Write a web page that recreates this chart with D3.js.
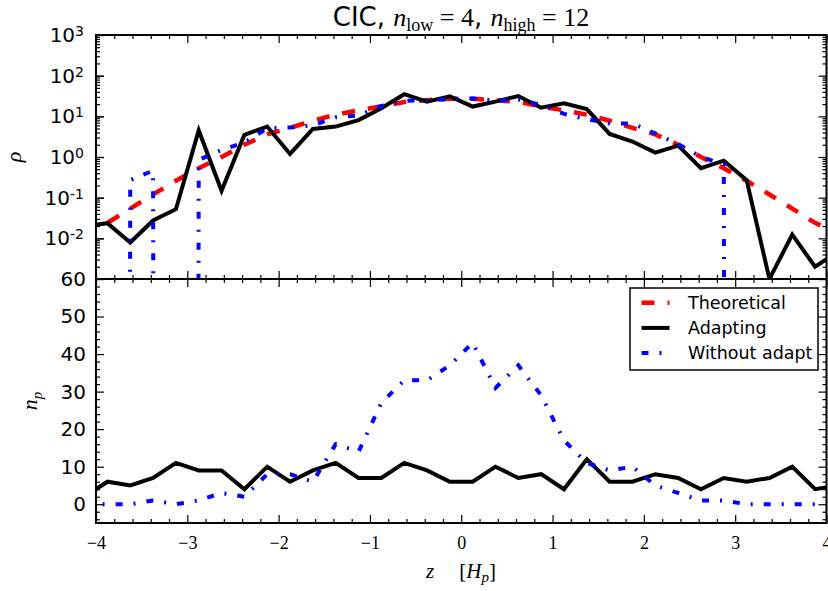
<!DOCTYPE html>
<html>
<head>
<meta charset="utf-8">
<script src="https://cdn.jsdelivr.net/npm/d3@7"></script>
<style>
  body { margin: 0; background: #fff; }
  svg { display: block; }
</style>
</head>
<body>
<svg id="chart" width="828" height="591"></svg>
<script>
// Cell centres along z (in units of H_p); the outermost two lie just outside the plotted range
const zCells = [-4.125, -3.875, -3.625, -3.375, -3.125, -2.875, -2.625, -2.375, -2.125, -1.875,
                -1.625, -1.375, -1.125, -0.875, -0.625, -0.375, -0.125, 0.125, 0.375, 0.625,
                0.875, 1.125, 1.375, 1.625, 1.875, 2.125, 2.375, 2.625, 2.875, 3.125,
                3.375, 3.625, 3.875, 4.125];

// Density rho per cell
const rhoTheoretical = [0.013, 0.024, 0.054, 0.12, 0.26, 0.53, 1.0, 2.0, 3.6, 5.2,
                        7.8, 11, 14, 17.5, 22.5, 25, 27, 27, 25, 22.5,
                        17.5, 14, 11, 7.8, 5.2, 3.6, 2.0, 1.0, 0.53, 0.26,
                        0.12, 0.054, 0.024, 0.013];
const rhoAdapting = [0.0197, 0.0236, 0.0079, 0.0275, 0.052, 4.5, 0.148, 3.5, 5.6, 1.19,
                     4.9, 5.6, 8.1, 15.8, 35, 23, 31, 17.4, 23, 31.6,
                     16.3, 21, 15.1, 3.7, 2.4, 1.28, 1.9, 0.53, 0.81, 0.27,
                     0.001, 0.0123, 0.002, 0.0047];
const rhoWithout = [0, 0, 0.27, 0.46, 0, 0.85, 1.5, 2.26, 5.1, 5.3,
                    6.0, 9.5, 10.5, 18, 24, 25, 26, 27.6, 24.4, 26,
                    19, 11.5, 8.5, 6.7, 6.7, 3.8, 2.06, 1.02, 0.64, 0,
                    0, 0, 0, 0];

// Particle count n_p per cell
const npAdapting = [2, 6, 5, 7, 11, 9, 9, 4, 10, 6,
                    9, 11, 7, 7, 11, 9, 6, 6, 10, 7,
                    8, 4, 12, 6, 6, 8, 7, 4, 7, 6,
                    7, 10, 4, 5];
const npWithout = [0, 0, 0, 1, 0, 1, 3, 2, 8, 8,
                   6, 16, 14, 27, 33, 33, 37, 43, 31, 37,
                   29, 17, 11, 9, 10, 5, 3, 1, 1, 0,
                   0, 0, 0, 0];

// Axis ticks
const zTicks = [-4, -3, -2, -1, 0, 1, 2, 3, 4];
const rhoExponents = [-2, -1, 0, 1, 2, 3];
const npTicks = [0, 10, 20, 30, 40, 50, 60];
const seriesNames = ["Theoretical", "Adapting", "Without adapt"];

const svg = d3.select("#chart");
const L = 96, R = 826.5, T = 35, MID = 279, B = 523;

const x = d3.scaleLinear().domain([-4, 4]).range([L, R]);
const yRho = d3.scaleLog().domain([1e-3, 1e3]).range([MID, T]);
const yNp = d3.scaleLinear().domain([-5, 60]).range([B, MID]);

const SANS = "DejaVu Sans, sans-serif";
const SERIF = "Liberation Serif, Times New Roman, serif";

// clip regions for the two panels
const defs = svg.append("defs");
defs.append("clipPath").attr("id", "clipTop").append("rect")
  .attr("x", L).attr("y", T).attr("width", R - L).attr("height", MID - T);
defs.append("clipPath").attr("id", "clipBot").append("rect")
  .attr("x", L).attr("y", MID).attr("width", R - L).attr("height", B - MID);

const styles = {
  theo: { stroke: "#ff0000", width: 4.5, dash: "13,13" },
  adapt: { stroke: "#000000", width: 4, dash: null },
  without: { stroke: "#0000ff", width: 4, dash: "7,11,2,11" }
};

function drawSeries(g, yScale, values, st, isLog) {
  const pts = zCells.map((z, i) => ({ z, v: values[i] }));
  const line = d3.line()
    .x(d => x(d.z))
    .y(d => yScale(isLog ? Math.max(d.v, 1e-300) : d.v));
  const p = g.append("path").datum(pts)
    .attr("d", line)
    .attr("fill", "none")
    .attr("stroke", st.stroke)
    .attr("stroke-width", st.width)
    .attr("stroke-linejoin", "miter")
    .attr("stroke-linecap", "butt");
  if (st.dash) p.attr("stroke-dasharray", st.dash);
}

// ---- top panel: density ----
const gTop = svg.append("g").attr("clip-path", "url(#clipTop)");
drawSeries(gTop, yRho, rhoTheoretical, styles.theo, true);
drawSeries(gTop, yRho, rhoAdapting, styles.adapt, true);
drawSeries(gTop, yRho, rhoWithout, styles.without, true);

// ---- bottom panel: particle count ----
const gBot = svg.append("g").attr("clip-path", "url(#clipBot)");
drawSeries(gBot, yNp, npAdapting, styles.adapt, false);
drawSeries(gBot, yNp, npWithout, styles.without, false);

// ---- axes: inward ticks on every side ----
const zMinor = d3.range(-4, 4.0001, 0.2).filter(v => Math.abs(v - Math.round(v)) > 1e-6);
const rhoMajor = d3.range(-3, 4).map(e => Math.pow(10, e));
const rhoMinor = [];
d3.range(-3, 3).forEach(e => { for (let m = 2; m <= 9; m++) rhoMinor.push(m * Math.pow(10, e)); });
const npMinor = d3.range(-4, 60, 2).filter(v => v % 10 !== 0);

function styleAxis(g) {
  g.select(".domain").remove();
  g.selectAll(".tick line").attr("stroke", "#000").attr("stroke-width", 1.2);
  g.attr("font-family", null).attr("font-size", null);
  return g;
}

function tickSet(axisFn, scale, values, size, transform) {
  const a = axisFn(scale).tickValues(values).tickSizeInner(-size).tickSizeOuter(0).tickFormat("");
  svg.append("g").attr("transform", transform).call(a).call(styleAxis);
}

// top panel ticks
tickSet(d3.axisBottom, x, zTicks, 8, `translate(0,${MID})`);
tickSet(d3.axisBottom, x, zMinor, 4, `translate(0,${MID})`);
tickSet(d3.axisTop, x, zTicks, 8, `translate(0,${T})`);
tickSet(d3.axisTop, x, zMinor, 4, `translate(0,${T})`);
tickSet(d3.axisLeft, yRho, rhoMajor, 8, `translate(${L},0)`);
tickSet(d3.axisLeft, yRho, rhoMinor, 4, `translate(${L},0)`);
tickSet(d3.axisRight, yRho, rhoMajor, 8, `translate(${R},0)`);
tickSet(d3.axisRight, yRho, rhoMinor, 4, `translate(${R},0)`);

// bottom panel ticks
tickSet(d3.axisTop, x, zTicks, 8, `translate(0,${MID})`);
tickSet(d3.axisTop, x, zMinor, 4, `translate(0,${MID})`);
tickSet(d3.axisBottom, x, zMinor, 4, `translate(0,${B})`);
tickSet(d3.axisLeft, yNp, npMinor, 4, `translate(${L},0)`);
tickSet(d3.axisRight, yNp, npTicks, 8, `translate(${R},0)`);
tickSet(d3.axisRight, yNp, npMinor, 4, `translate(${R},0)`);

// labelled axes
const xAxis = d3.axisBottom(x).tickValues(zTicks).tickSizeInner(-8).tickSizeOuter(0).tickPadding(13)
  .tickFormat(d => d < 0 ? "\u2212" + Math.abs(d) : String(d));
svg.append("g").attr("transform", `translate(0,${B})`).call(xAxis).call(styleAxis)
  .selectAll("text").attr("font-family", SERIF).attr("font-size", 18).attr("fill", "#000");

const npAxis = d3.axisLeft(yNp).tickValues(npTicks).tickSizeInner(-8).tickSizeOuter(0).tickPadding(10);
svg.append("g").attr("transform", `translate(${L},0)`).call(npAxis).call(styleAxis)
  .selectAll("text").attr("font-family", SANS).attr("font-size", 20).attr("fill", "#000");

const rhoAxis = d3.axisLeft(yRho).tickValues(rhoExponents.map(e => Math.pow(10, e)))
  .tickSizeInner(-8).tickSizeOuter(0).tickPadding(12).tickFormat("");
const rhoG = svg.append("g").attr("transform", `translate(${L},0)`).call(rhoAxis).call(styleAxis);
rhoG.selectAll(".tick text").each(function(d) {
  const t = d3.select(this).attr("font-family", SANS).attr("font-size", 20).attr("fill", "#000");
  const e = Math.round(Math.log10(d));
  t.text(null);
  t.append("tspan").text("10");
  t.append("tspan").attr("dy", "-0.42em").attr("font-size", 14)
    .text(e < 0 ? "-" + Math.abs(e) : String(e));
});

// frames
[[T, MID], [MID, B]].forEach(([y0, y1]) => {
  svg.append("rect").attr("x", L).attr("y", y0).attr("width", R - L).attr("height", y1 - y0)
    .attr("fill", "none").attr("stroke", "#000").attr("stroke-width", 2);
});

// title
const title = svg.append("text").attr("x", 461).attr("y", 26).attr("text-anchor", "middle")
  .attr("font-size", 26).attr("fill", "#000");
title.append("tspan").attr("font-family", SANS).text("CIC, ");
title.append("tspan").attr("font-family", SERIF).attr("font-style", "italic").text("n");
title.append("tspan").attr("font-family", SERIF).attr("font-size", 18).attr("dy", 5).text("low");
title.append("tspan").attr("font-family", SERIF).attr("dy", -5).text(" = 4");
title.append("tspan").attr("font-family", SANS).text(", ");
title.append("tspan").attr("font-family", SERIF).attr("font-style", "italic").text("n");
title.append("tspan").attr("font-family", SERIF).attr("font-size", 18).attr("dy", 5).text("high");
title.append("tspan").attr("font-family", SERIF).attr("dy", -5).text(" = 12");

// axis titles
svg.append("text").attr("transform", "translate(21,157) rotate(-90)").attr("text-anchor", "middle")
  .attr("font-family", SERIF).attr("font-style", "italic").attr("font-size", 22).attr("fill", "#000")
  .text("\u03c1");

const npLabel = svg.append("text").attr("transform", "translate(37,401) rotate(-90)")
  .attr("text-anchor", "middle").attr("font-family", SERIF).attr("font-size", 22).attr("fill", "#000");
npLabel.append("tspan").attr("font-style", "italic").text("n");
npLabel.append("tspan").attr("font-style", "italic").attr("font-size", 15).attr("dy", 5).text("p");

const zLabel = svg.append("text").attr("x", 461).attr("y", 578).attr("text-anchor", "middle")
  .attr("font-family", SERIF).attr("font-size", 21).attr("fill", "#000");
zLabel.append("tspan").attr("font-style", "italic").text("z");
zLabel.append("tspan").text("\u2003\u2009[");
zLabel.append("tspan").attr("font-style", "italic").text("H");
zLabel.append("tspan").attr("font-style", "italic").attr("font-size", 15).attr("dy", 4).text("p");
zLabel.append("tspan").attr("dy", -4).text("]");

// legend
const lg = svg.append("g");
lg.append("rect").attr("x", 630).attr("y", 288).attr("width", 188).attr("height", 82)
  .attr("fill", "#fff").attr("stroke", "#000").attr("stroke-width", 1.5);
const legendStyles = [styles.theo, styles.adapt, styles.without];
seriesNames.forEach((name, i) => {
  const cy = 302.7 + i * 25.2;
  const st = legendStyles[i];
  const ln = lg.append("line").attr("x1", 641.5).attr("x2", 669.5).attr("y1", cy).attr("y2", cy)
    .attr("stroke", st.stroke).attr("stroke-width", st.width);
  if (st.dash) ln.attr("stroke-dasharray", st.dash);
  lg.append("text").attr("x", 688).attr("y", cy + 6.3)
    .attr("font-family", SANS).attr("font-size", 17.5).attr("fill", "#000").text(name);
});
</script>
</body>
</html>
